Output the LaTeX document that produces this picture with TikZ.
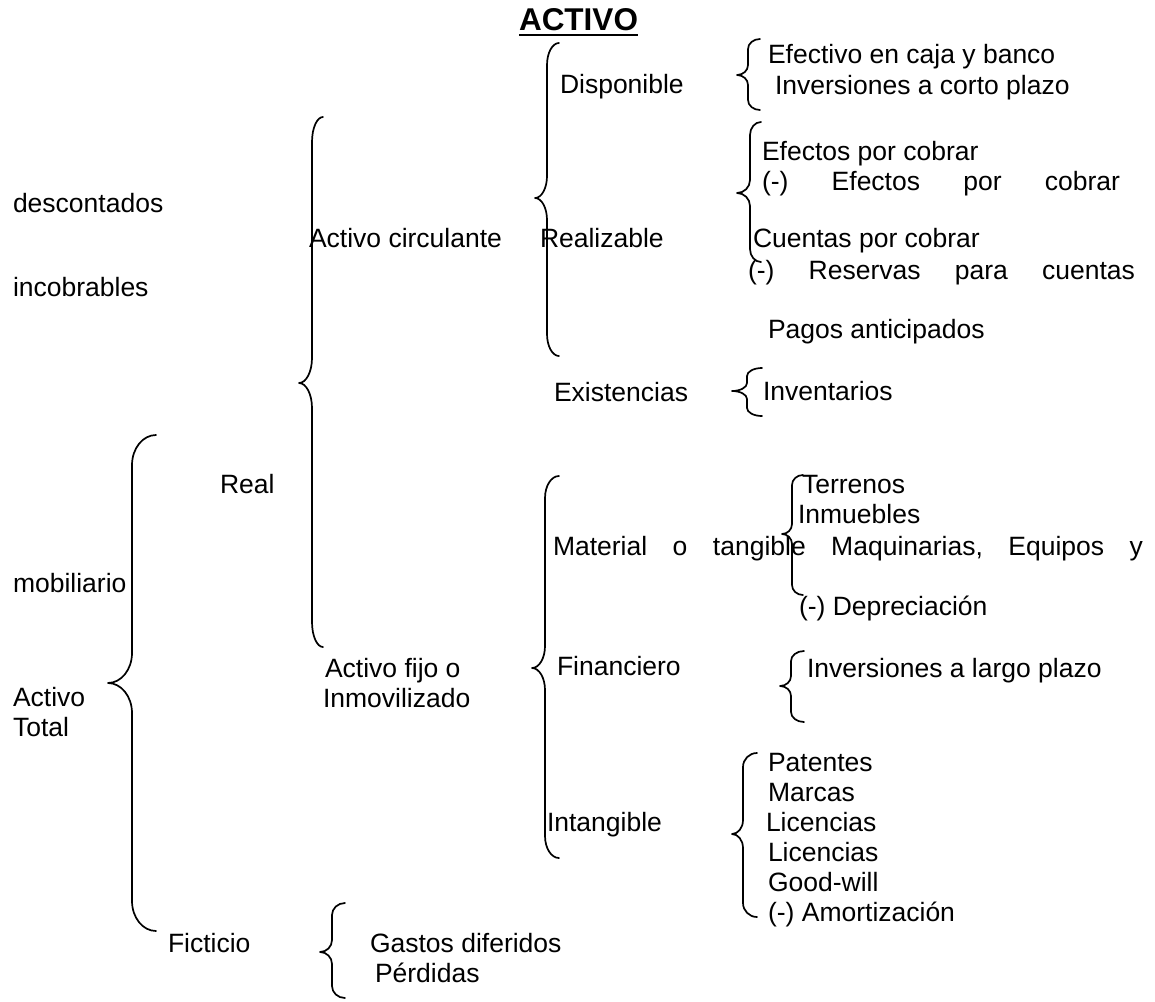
\documentclass[tikz,border=0pt]{standalone}
\usepackage{fontspec}
\setmainfont{Liberation Sans}
\usetikzlibrary{calc}

% Curly brace opening to the right:
% #1 tip x, #2 stem x, #3 end x, #4 top y, #5 tip y, #6 bottom y, #7 curl height
\newcommand\wbrace[7]{%
  \draw[bracestyle]
    (#3,#4) .. controls ({#2+0.448*(#3-#2)},#4) and (#2,{#4+0.448*#7}) .. (#2,{#4+#7})
    -- (#2,{#5-#7})
    .. controls (#2,{#5-0.448*#7}) and ({#1+0.552*(#2-#1)},#5) .. (#1,#5)
    .. controls ({#1+0.552*(#2-#1)},#5) and (#2,{#5+0.448*#7}) .. (#2,{#5+#7})
    -- (#2,{#6-#7})
    .. controls (#2,{#6-0.448*#7}) and ({#2+0.448*(#3-#2)},#6) .. (#3,#6);%
}

\begin{document}
\begin{tikzpicture}[x=1pt,y=-1pt,
  lbl/.style={anchor=base west, inner sep=0pt, outer sep=0pt,
              font=\fontsize{26.5}{30}\selectfont},
  ttl/.style={anchor=base west, inner sep=0pt, outer sep=0pt,
              font=\fontsize{31.5}{36}\selectfont\bfseries},
  bracestyle/.style={line width=1.7pt, line cap=round, line join=round}]
\useasboundingbox[fill=white] (0,0) rectangle (1155,1001);

% Title
\node[ttl] (title) at (519,30) {ACTIVO};
\draw[line width=2.8pt] ($(title.base west)+(0,5)$) -- ($(title.base east)+(0,5)$);

% Left margin lines
\node[lbl] (desc)  at (13,212) {descontados};
\node[lbl] (incob) at (13,296) {incobrables};
\node[lbl] (mobil) at (13,592) {mobiliario};
\node[lbl] (acta)  at (13,706) {Activo};
\node[lbl] (actb)  at (13,736) {Total};

% Second level
\node[lbl] (real)  at (220,493) {Real};
\node[lbl] (ficti) at (168,952) {Ficticio};

% Third level
\node[lbl] (circ)  at (309,247) {Activo circulante};
\node[lbl] (fijoa) at (325,677) {Activo fijo o};
\node[lbl] (fijob) at (323,707) {Inmovilizado};

% Fourth level
\node[lbl] (disp)  at (560,93)  {Disponible};
\node[lbl] (realz) at (540,247) {Realizable};
\node[lbl] (exist) at (554,401) {Existencias};
\node[lbl] (mater) at (553,555) {\hbox to 590pt{Material\hfill o\hfill tangible\hfill Maquinarias,\hfill Equipos\hfill y}};
\node[lbl] (finan) at (557,675) {Financiero};
\node[lbl] (intan) at (547,831) {Intangible};

% Accounts
\node[lbl] (efcaja) at (768,63)  {Efectivo en caja y banco};
\node[lbl] (invcp)  at (775,94)  {Inversiones a corto plazo};
\node[lbl] (efcob)  at (762,160) {Efectos por cobrar};
\node[lbl] (efdes)  at (762,190) {\hbox to 358pt{(-)\hfill Efectos\hfill por\hfill cobrar}};
\node[lbl] (ctas)   at (753,247) {Cuentas por cobrar};
\node[lbl] (reserv) at (748,279) {\hbox to 387pt{(-)\hfill Reservas\hfill para\hfill cuentas}};
\node[lbl] (pagos)  at (768,338) {Pagos anticipados};
\node[lbl] (invent) at (763,400) {Inventarios};
\node[lbl] (terr)   at (802,493) {Terrenos};
\node[lbl] (inmu)   at (798,523) {Inmuebles};
\node[lbl] (depr)   at (799,615) {(-) Depreciación};
\node[lbl] (invlp)  at (807,677) {Inversiones a largo plazo};
\node[lbl] (pat)    at (768,771) {Patentes};
\node[lbl] (marc)   at (768,801) {Marcas};
\node[lbl] (lica)   at (766,831) {Licencias};
\node[lbl] (licb)   at (768,861) {Licencias};
\node[lbl] (good)   at (768,891) {Good-will};
\node[lbl] (amort)  at (768,921) {(-) Amortización};
\node[lbl] (gastos) at (370,952) {Gastos diferidos};
\node[lbl] (perd)   at (375,982) {Pérdidas};

% Braces
\wbrace{737}{748}{760}{39}{75}{110}{10}
\wbrace{535}{547}{559}{43}{198}{356}{22}
\wbrace{737}{750}{761}{122}{193}{262}{13}
\wbrace{732}{747}{762}{368}{391}{416}{8}
\wbrace{299}{312}{323}{117}{383}{647}{25}
\wbrace{108}{132}{156}{435}{683}{931}{30}
\wbrace{532}{545}{559}{476}{668}{858}{22}
\wbrace{782}{792}{803}{475}{534}{595}{10}
\wbrace{780}{791}{804}{651}{686}{722}{10}
\wbrace{732}{743}{757}{753}{834}{917}{14}
\wbrace{320}{332}{345}{903}{952}{998}{12}
\end{tikzpicture}
\end{document}
